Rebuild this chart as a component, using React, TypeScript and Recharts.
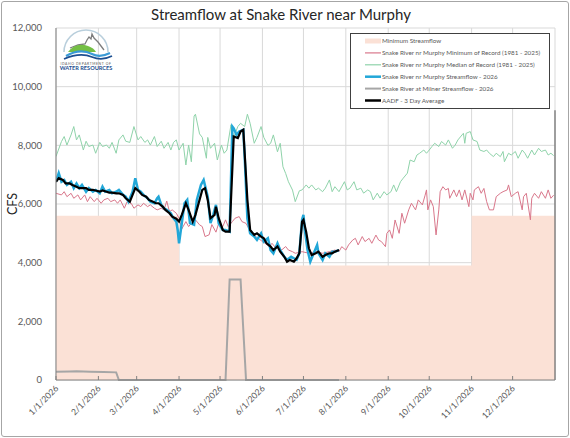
import React from 'react';
import {
  ComposedChart,
  Line,
  Area,
  XAxis,
  YAxis,
  CartesianGrid,
  ReferenceLine,
} from 'recharts';

// Day of year (0 = Jan 1) paired with flow in cfs.
const monthTicks = [0, 31, 59, 90, 120, 151, 181, 212, 243, 273, 304, 334];
const monthLabels = [
  '1/1/2026', '2/1/2026', '3/1/2026', '4/1/2026', '5/1/2026', '6/1/2026',
  '7/1/2026', '8/1/2026', '9/1/2026', '10/1/2026', '11/1/2026', '12/1/2026',
];
const cfsTicks = [0, 2000, 4000, 6000, 8000, 10000, 12000];

const minimumStreamflow: [number, number][] = [
  [0, 5600], [90, 3900], [304, 5600], [365, 5600],
];

const medianOfRecord: [number, number][] = [
  [0, 7620], [4, 8130], [6, 8300], [8, 8010], [11, 8355], [13, 8640], [15, 8185], [17, 8355],
  [20, 7840], [22, 8140], [24, 7960], [27, 8010], [29, 7730], [32, 8100], [34, 7960], [37, 8010],
  [39, 7900], [41, 8100], [44, 7730], [46, 8185], [49, 8355], [51, 8140], [54, 8100], [57, 8640],
  [60, 8185], [62, 8300], [65, 8100], [67, 8185], [69, 8010], [72, 8300], [74, 7960], [77, 8140],
  [79, 7900], [82, 8100], [84, 7840], [86, 8100], [88, 8185], [90, 7840], [93, 8070], [95, 7330],
  [97, 8010], [99, 7440], [101, 9000], [102, 9060], [105, 8390], [107, 8270], [110, 7560], [111, 8270],
  [113, 7900], [116, 8070], [118, 7500], [121, 8010], [123, 7730], [125, 7840], [128, 8700], [130, 8270],
  [133, 8640], [135, 8750], [138, 8640], [140, 9060], [142, 8750], [145, 8070], [147, 8270], [150, 8640],
  [152, 8270], [155, 8000], [157, 8070], [159, 8355], [162, 7780], [164, 8070], [166, 7270], [168, 7040],
  [170, 6760], [173, 6475], [175, 6080], [178, 6450], [180, 6480], [183, 6650], [185, 6540], [187, 6650],
  [190, 6480], [192, 6540], [195, 6420], [197, 6540], [200, 6820], [202, 6420], [204, 6590], [207, 6420],
  [211, 6760], [213, 6480], [215, 6540], [218, 6760], [220, 6480], [223, 6540], [225, 6370], [228, 6480],
  [230, 6420], [232, 6140], [235, 6370], [237, 6200], [240, 6420], [242, 6310], [245, 6420], [247, 6650],
  [249, 6420], [252, 6760], [254, 6880], [257, 7050], [259, 7500], [262, 7440], [264, 7670], [266, 7730],
  [269, 7840], [271, 7730], [273, 7840], [275, 7960], [277, 8070], [280, 7960], [282, 8130], [285, 8010],
  [287, 8185], [290, 7900], [292, 8010], [294, 8185], [297, 8355], [298, 8410], [299, 8070], [300, 8410],
  [303, 8470], [305, 8185], [308, 8130], [310, 7840], [313, 7790], [315, 7840], [317, 7730], [320, 7615],
  [322, 7730], [325, 7615], [327, 7790], [328, 7440], [331, 7730], [333, 7670], [336, 7790], [338, 7560],
  [341, 7840], [343, 7730], [345, 7560], [348, 7840], [350, 7670], [353, 7900], [355, 7790], [358, 7840],
  [360, 7670], [362, 7730], [364, 7650],
];

const minimumOfRecord: [number, number][] = [
  [0, 6365], [4, 6310], [6, 6420], [8, 6250], [11, 6365], [13, 6195], [16, 6310], [18, 6140],
  [21, 6310], [23, 6080], [25, 6250], [28, 6080], [30, 6195], [33, 6025], [35, 6140], [38, 6195],
  [40, 6080], [43, 6140], [45, 6025], [47, 6140], [50, 5855], [52, 6080], [55, 6025], [57, 5855],
  [60, 5970], [62, 5910], [64, 6025], [67, 5910], [69, 5970], [72, 5855], [74, 5800], [77, 5855],
  [79, 5800], [81, 6100], [83, 5740], [85, 5800], [88, 5685], [90, 5520], [92, 5150], [95, 5400],
  [97, 5230], [100, 5400], [102, 5460], [105, 5290], [107, 5230], [109, 4890], [112, 4950], [114, 5300],
  [117, 5040], [119, 5340], [122, 5230], [124, 5460], [126, 5230], [129, 5400], [131, 5515], [134, 5570],
  [136, 5400], [139, 5340], [141, 5170], [144, 5000], [146, 4890], [148, 4830], [151, 4720], [153, 4660],
  [156, 4550], [158, 4660], [161, 4490], [163, 4550], [165, 4430], [168, 4550], [170, 4430], [173, 4375],
  [175, 4320], [180, 4375], [185, 4320], [190, 4375], [195, 4320], [200, 4375], [204, 4430], [207, 4375],
  [209, 4545], [212, 4430], [214, 4605], [217, 4770], [219, 4830], [221, 4605], [224, 4890], [226, 4720],
  [229, 4830], [231, 4660], [234, 4940], [236, 4770], [238, 4720], [241, 4545], [242, 5000], [244, 5115],
  [246, 4830], [248, 5455], [251, 5000], [253, 5685], [255, 5345], [258, 5800], [260, 6025], [263, 5800],
  [265, 6140], [268, 5970], [270, 6300], [271, 6480], [272, 5800], [274, 6140], [276, 5910], [278, 4945],
  [280, 5800], [281, 6420], [283, 6590], [285, 6480], [287, 6530], [288, 6195], [291, 6480], [293, 6250],
  [295, 6480], [297, 6140], [299, 6480], [302, 5910], [303, 6365], [305, 6140], [306, 6480], [309, 6590],
  [311, 6365], [313, 6530], [315, 6080], [317, 5800], [320, 5800], [322, 6250], [325, 6365], [327, 6420],
  [330, 6480], [331, 6650], [333, 6250], [336, 6365], [338, 6420], [341, 5800], [342, 6250], [344, 6365],
  [347, 5460], [348, 6195], [350, 6365], [353, 6195], [355, 6420], [358, 6195], [360, 6480], [362, 6195],
  [364, 6300],
];

const murphyFlow2026: [number, number][] = [
  [0, 6760], [2, 7050], [4, 6760], [6, 6820], [8, 6650], [11, 6760], [13, 6540], [15, 6700],
  [17, 6540], [19, 6650], [22, 6420], [24, 6540], [27, 6420], [29, 6480], [32, 6365], [34, 6590],
  [36, 6420], [39, 6480], [41, 6365], [44, 6420], [46, 6480], [49, 6310], [51, 6250], [53, 6080],
  [56, 6420], [58, 6880], [60, 6480], [62, 6420], [64, 6310], [67, 6195], [69, 6080], [72, 6025],
  [74, 6195], [75, 6250], [77, 5970], [79, 5855], [81, 5800], [84, 5685], [86, 5515], [88, 5400],
  [89, 5115], [90, 4660], [92, 5345], [94, 6025], [96, 6140], [98, 5345], [101, 5290], [103, 6140],
  [106, 6650], [108, 6820], [111, 6250], [113, 5345], [115, 5630], [117, 5970], [119, 5345], [122, 5115],
  [124, 5115], [127, 5060], [129, 8640], [130, 8580], [132, 8360], [134, 8470], [137, 8530], [138, 7620],
  [140, 5500], [142, 5000], [145, 4890], [147, 4775], [150, 5000], [152, 4720], [155, 4830], [157, 4430],
  [159, 4320], [162, 4660], [164, 4430], [167, 4200], [169, 4100], [172, 4200], [174, 4150], [176, 4100],
  [178, 4320], [180, 5460], [181, 5630], [182, 5115], [184, 4430], [186, 4035], [189, 4375], [191, 4600],
  [192, 4320], [195, 4090], [197, 4320], [200, 4200], [202, 4375], [204, 4375], [207, 4430],
];

const milnerFlow2026: [number, number][] = [
  [0, 280], [10, 290], [15, 300], [25, 285], [35, 275], [44, 260], [46, 0], [124, 0],
  [127, 3430], [135, 3430], [139, 0], [207, 0],
];

const aadf3Day: [number, number][] = [
  [0, 6760], [2, 6880], [5, 6820], [7, 6700], [10, 6700], [12, 6650], [15, 6590], [17, 6540],
  [20, 6540], [22, 6540], [24, 6480], [27, 6480], [29, 6460], [32, 6420], [34, 6460], [37, 6420],
  [39, 6390], [41, 6385], [44, 6365], [46, 6365], [49, 6310], [51, 6195], [54, 6080], [56, 6310],
  [58, 6540], [61, 6420], [63, 6310], [66, 6250], [68, 6140], [71, 6080], [73, 6025], [75, 6025],
  [78, 5910], [80, 5800], [83, 5685], [85, 5570], [88, 5500], [90, 5400], [92, 5630], [95, 6025],
  [97, 5800], [100, 5400], [102, 5630], [105, 6140], [107, 6480], [109, 6540], [111, 6140], [113, 5515],
  [116, 5630], [117, 5910], [119, 5515], [122, 5115], [124, 5060], [127, 5060], [130, 8300], [133, 8245],
  [135, 8470], [137, 8530], [140, 6140], [142, 5115], [145, 4945], [147, 5000], [150, 4890], [152, 4830],
  [154, 4660], [157, 4550], [159, 4430], [162, 4550], [164, 4375], [167, 4200], [169, 4035], [171, 4090],
  [174, 4035], [176, 4150], [178, 4320], [180, 5400], [181, 5460], [183, 5050], [185, 4490], [187, 4260],
  [190, 4320], [192, 4375], [195, 4200], [197, 4260], [200, 4320], [202, 4320], [204, 4375], [207, 4430],
];

const toRows = (pts: [number, number][]) => pts.map(([day, cfs]) => ({ day, cfs }));

const FONT = 'Lato, "Open Sans", sans-serif';

const legendItems = [
  { label: 'Minimum Streamflow', color: '#fbe1d6', width: 5 },
  { label: 'Snake River nr Murphy Minimum of Record (1981 - 2025)', color: '#d9778b', width: 1.2 },
  { label: 'Snake River nr Murphy Median of Record (1981 - 2025)', color: '#8fd3aa', width: 1.2 },
  { label: 'Snake River nr Murphy Streamflow - 2026', color: '#22a7d8', width: 2.5 },
  { label: 'Snake River at Milner Streamflow - 2026', color: '#a6a6a6', width: 2 },
  { label: 'AADF - 3 Day Average', color: '#000000', width: 2.5 },
];

const LegendBox = () => (
  <svg
    width={200}
    height={76}
    style={{ position: 'absolute', left: 350, top: 33, display: 'block' }}
  >
    <rect x={0.5} y={0.5} width={199} height={75} fill="#ffffff" stroke="#404040" strokeWidth={1} />
    {legendItems.map((item, i) => {
      const cy = 8 + i * 11.9;
      return (
        <g key={item.label}>
          <line x1={15} x2={31} y1={cy} y2={cy} stroke={item.color} strokeWidth={item.width} />
          <text x={32} y={cy + 2.2} fontSize={6.3} fill="#595959" fontFamily={FONT}>
            {item.label}
          </text>
        </g>
      );
    })}
  </svg>
);

const XTick = (props: any) => {
  const { x, y, payload } = props;
  const idx = monthTicks.indexOf(payload.value);
  const label = idx >= 0 ? monthLabels[idx] : '';
  const ax = x + 3;
  const ay = y + 9;
  return (
    <g>
      <line x1={x} x2={x} y1={y} y2={y - 4} stroke="#808080" strokeWidth={1} />
      <text
        x={ax}
        y={ay}
        textAnchor="end"
        fontSize={8.6}
        fill="#595959"
        fontFamily={FONT}
        transform={`rotate(-45 ${ax} ${ay})`}
      >
        {label}
      </text>
    </g>
  );
};

const Logo = () => (
  <svg
    width={60}
    height={50}
    viewBox="0 0 60 50"
    style={{ position: 'absolute', left: 58, top: 26 }}
  >
    <path d="M 6 26 A 22 22 0 0 1 50 26" fill="none" stroke="#b9cfdc" strokeWidth={1.6} />
    <path
      d="M 12 22 L 20 19 L 27 18 L 29 14 L 31 11 L 33 13 L 34 8 L 36 12 L 38 14 L 40 16 L 43 20 L 46 24"
      fill="none"
      stroke="#7d7d7d"
      strokeWidth={1.3}
    />
    <path d="M 10 26 Q 18 16 30 20 Q 36 22 38 26 Z" fill="#74bf44" />
    <path d="M 8 30 Q 22 22 34 28 Q 42 32 52 27" fill="none" stroke="#3a9ad6" strokeWidth={2.2} />
    <path d="M 6 33 Q 22 26 34 31 Q 44 35 54 30" fill="none" stroke="#1d4f91" strokeWidth={1.8} />
    <text x={28} y={38.5} textAnchor="middle" fontSize={3.4} fill="#555" fontFamily={FONT} letterSpacing={0.6}>
      IDAHO DEPARTMENT OF
    </text>
    <text x={28} y={44} textAnchor="middle" fontSize={5.6} fontWeight={700} fill="#1d4f91" fontFamily={FONT}>
      WATER RESOURCES
    </text>
  </svg>
);

export default function App() {
  return (
    <div
      style={{
        position: 'absolute',
        left: 0,
        top: 0,
        width: 570,
        height: 438,
        background: '#ffffff',
        fontFamily: FONT,
      }}
    >
      <div
        style={{
          position: 'absolute',
          left: 1,
          top: 1,
          width: 566,
          height: 434,
          border: '1px solid #a6a6a6',
          borderRadius: 3,
        }}
      />
      <ComposedChart
        width={570}
        height={438}
        margin={{ top: 28, right: 15, bottom: 0, left: 0 }}
        style={{ position: 'absolute', left: 0, top: 0 }}
      >
        <CartesianGrid stroke="#d9d9d9" strokeWidth={1} />
        <XAxis
          dataKey="day"
          type="number"
          domain={[0, 365]}
          ticks={monthTicks}
          interval={0}
          height={58}
          allowDataOverflow
          axisLine={{ stroke: '#808080' }}
          tickLine={false}
          tickSize={0}
          tickMargin={0}
          tick={<XTick />}
        />
        <YAxis
          type="number"
          domain={[0, 12000]}
          ticks={cfsTicks}
          interval={0}
          width={56}
          axisLine={{ stroke: '#808080' }}
          tickLine={false}
          tickMargin={8}
          tick={{ fontSize: 9.5, fill: '#595959', fontFamily: FONT }}
          tickFormatter={(v: number) => v.toLocaleString('en-US')}
          label={{
            value: 'CFS',
            angle: -90,
            position: 'insideLeft',
            offset: 13,
            style: { fontSize: 12.5, fill: '#262626', fontFamily: FONT, textAnchor: 'middle' },
          }}
        />
        <Area
          data={toRows(minimumStreamflow)}
          dataKey="cfs"
          type="stepAfter"
          fill="#fbe1d6"
          fillOpacity={1}
          stroke="none"
          isAnimationActive={false}
          name="Minimum Streamflow"
        />
        <ReferenceLine
          segment={[{ x: 365, y: 0 }, { x: 365, y: 9200 }]}
          stroke="#6b6b6b"
          strokeWidth={1.2}
          ifOverflow="visible"
        />
        <Line
          data={toRows(medianOfRecord)}
          dataKey="cfs"
          type="linear"
          stroke="#8fd3aa"
          strokeWidth={1}
          dot={false}
          isAnimationActive={false}
          name="Snake River nr Murphy Median of Record (1981 - 2025)"
        />
        <Line
          data={toRows(minimumOfRecord)}
          dataKey="cfs"
          type="linear"
          stroke="#d9778b"
          strokeWidth={1}
          dot={false}
          isAnimationActive={false}
          name="Snake River nr Murphy Minimum of Record (1981 - 2025)"
        />
        <Line
          data={toRows(murphyFlow2026)}
          dataKey="cfs"
          type="linear"
          stroke="#22a7d8"
          strokeWidth={2.5}
          dot={false}
          isAnimationActive={false}
          name="Snake River nr Murphy Streamflow - 2026"
        />
        <Line
          data={toRows(milnerFlow2026)}
          dataKey="cfs"
          type="linear"
          stroke="#a6a6a6"
          strokeWidth={2}
          dot={false}
          isAnimationActive={false}
          name="Snake River at Milner Streamflow - 2026"
        />
        <Line
          data={toRows(aadf3Day)}
          dataKey="cfs"
          type="linear"
          stroke="#000000"
          strokeWidth={2.2}
          dot={false}
          isAnimationActive={false}
          name="AADF - 3 Day Average"
        />
        <text
          x={281}
          y={20}
          textAnchor="middle"
          fontSize={15}
          fill="#262626"
          fontFamily={FONT}
        >
          Streamflow at Snake River near Murphy
        </text>
      </ComposedChart>
      <LegendBox />
      <Logo />
    </div>
  );
}
